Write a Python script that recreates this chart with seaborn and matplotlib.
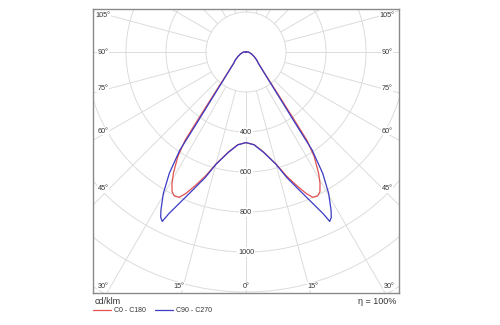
import numpy as np
import pandas as pd
import matplotlib
matplotlib.use("Agg")
import matplotlib.pyplot as plt
from matplotlib.lines import Line2D
from matplotlib.transforms import Bbox, TransformedBbox
import seaborn as sns

# ---------------- data (cd/klm vs gamma angle, degrees) ----------------
series_names = ["C0 - C180", "C90 - C270"]
gamma_c0 = [0, 5, 10, 15, 18, 20.6, 23, 24.7, 26.5, 27.9, 29.4, 30.9, 33.1, 34.6,
            35.4, 36.2, 37.5, 40, 47.5, 53, 60, 70, 80, 90, 180]
int_c0 = [453, 465, 508, 580, 650, 710, 768, 800, 804, 790, 754, 707, 625, 537,
          417, 331, 248, 165, 84, 67, 48, 30, 18, 12, 0]
gamma_c90 = [0, 5, 10, 15, 18, 21, 24, 25.5, 26.3, 27.3, 28.3, 30.3, 32.3, 34.0,
             34.3, 34.8, 35.6, 36.9, 39.5, 47.4, 53, 60, 70, 80, 90, 180]
int_c90 = [453, 466, 510, 582, 660, 737, 835, 895, 945, 930, 897, 819, 718, 591,
           502, 414, 331, 248, 165, 84, 67, 48, 30, 18, 12, 0]
ring_values = [200, 400, 600, 800, 1000, 1200, 1400]
ring_labels = [400, 600, 800, 1000]
angle_labels_side = [45, 60, 75, 90, 105]
angle_labels_bottom = [0, 15, 30]
eta_text = "η = 100%"
unit_text = "cd/klm"
colors = {"C0 - C180": "#e05252", "C90 - C270": "#3b3bc4"}

# ---------------- layout ----------------
sns.set_style("white")
plt.rcParams["font.family"] = ["Liberation Sans", "DejaVu Sans"]
W, H = 500, 325
fig = plt.figure(figsize=(W / 100, H / 100), dpi=100)
cx, cy = 246, 52          # polar centre in px (from top)
RMAX = 1450
PX = 0.2                  # px per cd/klm
rpx = RMAX * PX
box = (93, 9, 399, 293)   # left, top, right, bottom (px from top)
grid_c = "#dcdcdc"
txt_c = "#333333"

ax = fig.add_axes([(cx - rpx) / W, (H - cy - rpx) / H, 2 * rpx / W, 2 * rpx / H],
                  projection="polar")
ax.set_theta_zero_location("S")
ax.set_ylim(0, RMAX)

# grid rings & spokes
th = np.linspace(0, 2 * np.pi, 1441)
for r in ring_values:
    ax.plot(th, np.full_like(th, r), color=grid_c, lw=0.7, zorder=1)
for a in range(0, 360, 15):
    t = np.deg2rad(a)
    ax.plot([t, t], [200, RMAX], color=grid_c, lw=0.7, zorder=1)

for r in ring_labels:
    ax.text(0, r, str(r), ha="center", va="center", fontsize=5.2, color=txt_c,
            bbox=dict(boxstyle="square,pad=0.15", fc="white", ec="none"), zorder=3)

# curves (mirror each half-plane)
rows = []
for name, g, v in [(series_names[0], gamma_c0, int_c0),
                   (series_names[1], gamma_c90, int_c90)]:
    g = np.asarray(g, float)
    v = np.asarray(v, float)
    tt = np.concatenate([-g[::-1], g[1:]])
    rr = np.concatenate([v[::-1], v[1:]])
    for i, (a, r) in enumerate(zip(tt, rr)):
        rows.append({"series": name, "order": i, "theta": np.deg2rad(a), "r": r})
df = pd.DataFrame(rows)
sns.lineplot(data=df, x="theta", y="r", hue="series", hue_order=series_names,
             palette=colors, sort=False, estimator=None, lw=0.9, legend=False,
             ax=ax, zorder=4)
ax.axis("off")

clip = TransformedBbox(Bbox.from_extents(box[0] / W, 1 - box[3] / H,
                                         box[2] / W, 1 - box[1] / H), fig.transFigure)
for ln in ax.lines:
    ln.set_clip_box(clip)
for t in ax.texts:
    t.set_clip_box(clip)

# frame + angle labels overlay
ov = fig.add_axes([box[0] / W, 1 - box[3] / H, (box[2] - box[0]) / W,
                   (box[3] - box[1]) / H])
ov.set_xlim(box[0], box[2])
ov.set_ylim(box[3], box[1])
ov.set_xticks([])
ov.set_yticks([])
ov.patch.set_alpha(0)
for s in ov.spines.values():
    s.set_color("#8a8a8a")
    s.set_linewidth(1.0)
lbl_kw = dict(ha="center", va="center", fontsize=5.2, color=txt_c,
              bbox=dict(boxstyle="square,pad=0.12", fc="white", ec="none"))
for a in angle_labels_side:
    t = np.deg2rad(a)
    y = cy + 137 * np.cos(t) / np.sin(t)
    ov.text(cx + 141, y, f"{a}°", **lbl_kw)
    ov.text(cx - 143, y, f"{a}°", **lbl_kw)
for a in angle_labels_bottom:
    dx = 250 * np.tan(np.deg2rad(a))
    ov.text(min(cx + dx, 389), 286, f"{a}°", **lbl_kw)
    if a:
        ov.text(max(cx - dx, 103), 286, f"{a}°", **lbl_kw)

# unit, efficiency, legend
fig.text(95 / W, 1 - 302 / H, unit_text, ha="left", va="center", fontsize=6.5, color=txt_c)
fig.text(396 / W, 1 - 302 / H, eta_text, ha="right", va="center", fontsize=6.5, color=txt_c)
handles = [Line2D([], [], color=colors[n], lw=0.9) for n in series_names]
fig.legend(handles, series_names, loc="center left",
           bbox_to_anchor=(93 / W, 1 - 311 / H), ncol=2, frameon=False,
           fontsize=5, handlelength=2.6, handletextpad=0.4, columnspacing=1.4,
           borderpad=0, borderaxespad=0, labelcolor=txt_c)

fig.savefig("out.png", dpi=100)
